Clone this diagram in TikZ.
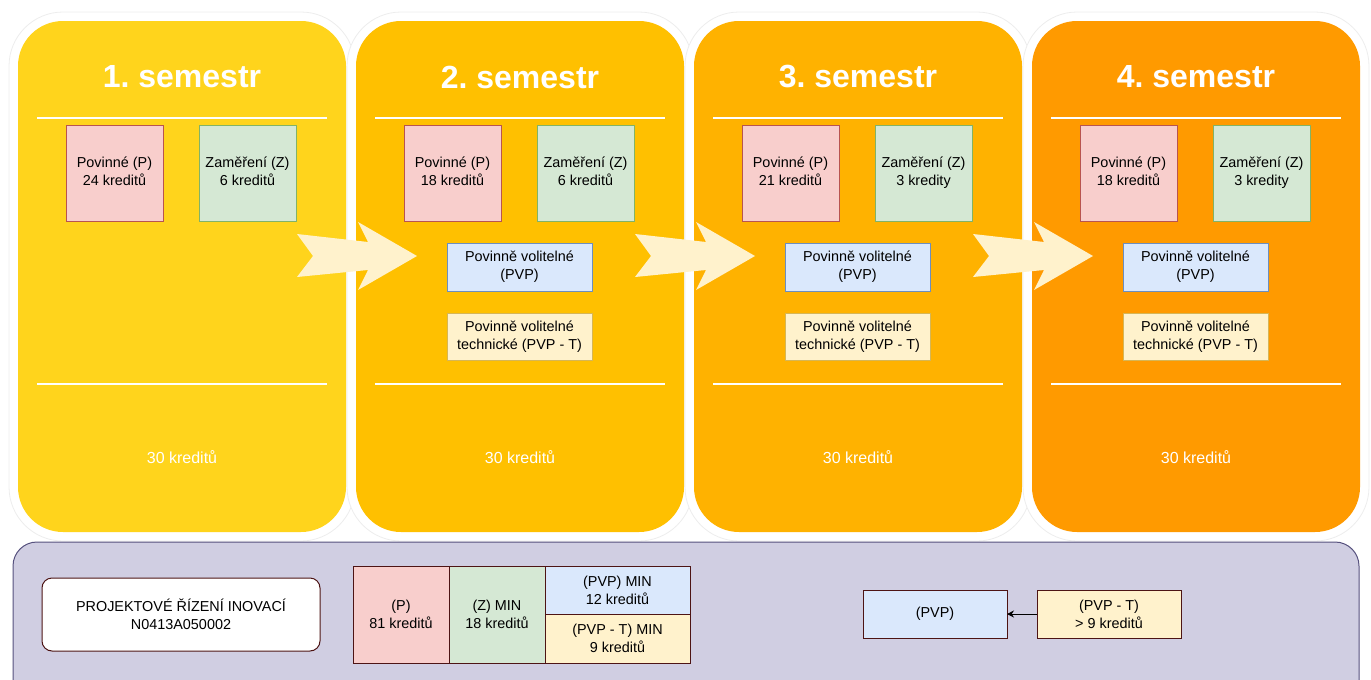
\documentclass[tikz,border=0pt]{standalone}
\usepackage{fontspec}
\setmainfont{Liberation Sans}
\usetikzlibrary{positioning,arrows.meta}
\definecolor{semA}{HTML}{FFD41C}
\definecolor{semB}{HTML}{FFC000}
\definecolor{semC}{HTML}{FFB200}
\definecolor{semD}{HTML}{FF9A00}
\definecolor{pfill}{HTML}{F8CECC}
\definecolor{pline}{HTML}{B85450}
\definecolor{zfill}{HTML}{D5E8D4}
\definecolor{zline}{HTML}{82B366}
\definecolor{vfill}{HTML}{DAE8FC}
\definecolor{vline}{HTML}{6C8EBF}
\definecolor{tfill}{HTML}{FFF2CC}
\definecolor{tline}{HTML}{D6B656}
\definecolor{basefill}{HTML}{D0CEE2}
\definecolor{baseline}{HTML}{56517E}
\definecolor{maroon}{HTML}{4D1414}
\frenchspacing
\begin{document}
\begin{tikzpicture}[x=1pt,y=-1pt,
  ring/.style={fill=white,draw=black!7,line width=0.8pt,rounded corners=54pt},
  panel/.style={rounded corners=45pt},
  sep/.style={white,line width=2pt},
  title/.style={white,font=\fontsize{32}{38}\selectfont\bfseries},
  sum/.style={white,font=\fontsize{16}{19}\selectfont},
  box/.style={align=center,inner sep=0pt,outer sep=0pt,line width=1pt,font=\fontsize{14.4}{18.3}\selectfont},
  pbox/.style={box,fill=pfill,draw=pline,minimum width=97pt,minimum height=96pt},
  zbox/.style={box,fill=zfill,draw=zline,minimum width=97pt,minimum height=96pt},
  vbox/.style={box,fill=vfill,draw=vline,minimum width=145pt,minimum height=48pt},
  tbox/.style={box,fill=tfill,draw=tline,minimum width=145pt,minimum height=47pt},
  cell/.style={box,draw=maroon}]
\useasboundingbox (0,0) rectangle (1371,680);
\foreach \lx in {18,356,694,1032}
  \draw[ring] (\lx-9,12) rectangle (\lx+337,541);
\foreach \lx/\col/\sem/\pk/\zk/\zw in {18/semA/1/24/6/kreditů,356/semB/2/18/6/kreditů,694/semC/3/21/3/kredity,1032/semD/4/18/3/kredity}{
  \fill[\col,panel] (\lx,21) rectangle (\lx+328,532);
  \node[title] (t\sem) at (\lx+164,77) {\sem. semestr};
  \draw[sep] (\lx+19,118) -- (\lx+309,118);
  \draw[sep] (\lx+19,384) -- (\lx+309,384);
  \node[pbox] (p\sem) at (\lx+96.5,173) {Povinné (P)\\\pk{} kreditů\vphantom{y}};
  \node[zbox] (z\sem) at (\lx+229.5,173) {Zaměření (Z)\\\zk{} \zw\vphantom{y}};
  \node[sum] (k\sem) at (\lx+164,457) {30 kreditů};
}
\foreach \lx/\sem in {356/2,694/3,1032/4}{
  \fill[tfill,shift={(\lx,256)}] (-59,-22) -- (-43,0) -- (-59,21) -- (12,14) -- (2,34)
    -- (61,0) -- (2,-34) -- (12,-14) -- cycle;
  \node[vbox] (v\sem) at (\lx+163.5,267) {Povinně volitelné\\(PVP)};
  \node[tbox] (w\sem) at (\lx+163.5,336.5) {Povinně volitelné\\technické (PVP - T)};
}
\begin{scope}
\clip (0,0) rectangle (1371,680);
\draw[fill=basefill,draw=baseline,line width=1pt,rounded corners=24pt] (13,542) rectangle (1359,720);
\end{scope}
\node[cell,fill=white,rounded corners=10pt,minimum width=278pt,minimum height=73pt] (prog) at (181,614.5)
  {PROJEKTOVÉ ŘÍZENÍ INOVACÍ\\N0413A050002};
\node[cell,fill=pfill,minimum width=96pt,minimum height=97pt] (tp) at (401,614.5) {(P)\\81 kreditů};
\node[cell,fill=zfill,minimum width=96pt,minimum height=97pt,right=0pt of tp] (tz) {(Z) MIN\\18 kreditů};
\node[cell,fill=vfill,minimum width=145pt,minimum height=48pt,anchor=north west] (tv) at (tz.north east) {(PVP) MIN\\12 kreditů};
\node[cell,fill=tfill,minimum width=145pt,minimum height=49pt,below=0pt of tv] (tw) {(PVP - T) MIN\\9 kreditů};
\node[cell,fill=vfill,minimum width=144pt,minimum height=48pt] (bv) at (935,614) {(PVP)};
\node[cell,fill=tfill,minimum width=144pt,minimum height=48pt,right=30pt of bv] (bw) {(PVP - T)\\> 9 kreditů};
\draw[-{Stealth[length=7pt,width=7pt]},line width=1pt] (bw) -- (bv);
\end{tikzpicture}
\end{document}
